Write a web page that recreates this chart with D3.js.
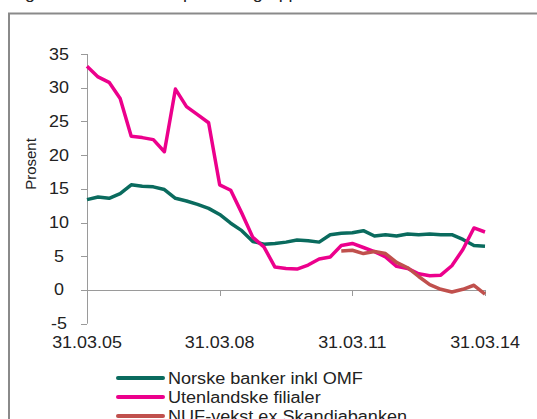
<!DOCTYPE html>
<html>
<head>
<meta charset="utf-8">
<script src="https://cdn.jsdelivr.net/npm/d3@7/dist/d3.min.js"></script>
<style>
  html, body { margin: 0; padding: 0; background: #fff; }
  svg { display: block; }
  text { font-family: "Liberation Sans", Arial, sans-serif; fill: #222; }
</style>
</head>
<body>
<svg id="chart" width="537" height="419"></svg>
<script>
// Quarterly growth, 31.03.05 – 31.03.14 (37 quarters)
const quarters = d3.range(37);
const tickLabels = ["31.03.05", "31.03.08", "31.03.11", "31.03.14"];
const tickQuarters = [0, 12, 24, 36];
const yTicks = [-5, 0, 5, 10, 15, 20, 25, 30, 35];

const norske = [13.4, 13.8, 13.6, 14.3, 15.6, 15.4, 15.3, 14.9, 13.6, 13.2,
                12.7, 12.1, 11.2, 9.9, 8.8, 7.2, 6.8, 6.9, 7.1, 7.4,
                7.3, 7.1, 8.2, 8.4, 8.5, 8.8, 8.0, 8.2, 8.0, 8.3,
                8.2, 8.3, 8.2, 8.2, 7.5, 6.6, 6.5];
const utenlandske = [33.2, 31.6, 30.8, 28.4, 22.8, 22.6, 22.3, 20.5, 29.8, 27.2,
                     26.0, 24.8, 15.6, 14.8, 11.4, 7.8, 6.4, 3.4, 3.2, 3.1,
                     3.7, 4.6, 4.9, 6.6, 6.9, 6.3, 5.7, 4.9, 3.5, 3.2,
                     2.4, 2.1, 2.2, 3.6, 6.0, 9.2, 8.6];
// NUF series starts in the 24th quarter
const nuf = [null, null, null, null, null, null, null, null, null, null,
             null, null, null, null, null, null, null, null, null, null,
             null, null, null, 5.8, 5.9, 5.4, 5.7, 5.4, 4.1, 3.3,
             2.0, 0.8, 0.1, -0.3, 0.1, 0.7, -0.6];

const seriesNames = ["Norske banker inkl OMF", "Utenlandske filialer", "NUF-vekst ex Skandiabanken"];
const seriesColors = ["#0a6b5e", "#ec008c", "#c0504d"];

const svg = d3.select("#chart");
const x = d3.scaleLinear().domain([0, 36]).range([87, 485]);
const y = d3.scaleLinear().domain([-5, 35]).range([323.7, 54]);
const sx = 1.12; // slightly wide lettering

// Title line (sits above the frame, only its descenders reach the page)
svg.append("text")
  .attr("transform", `translate(10,-1.5) scale(${sx},1)`)
  .style("font-size", "16px")
  .text("Figur 1.3 Utlånsvekst per bankgruppe");

// Frame
svg.append("path")
  .attr("d", `M9,430 V13.5 H545`)
  .attr("fill", "none")
  .attr("stroke", "#8a8a8a")
  .attr("stroke-width", 2);

// Y axis
const axisColor = "#9a9a9a";
svg.append("line")
  .attr("x1", x(0) + 0.5).attr("x2", x(0) + 0.5)
  .attr("y1", y(35)).attr("y2", y(-5))
  .attr("stroke", axisColor);
svg.selectAll(".ytick").data(yTicks).join("line")
  .attr("x1", x(0) - 6).attr("x2", x(0))
  .attr("y1", d => Math.round(y(d)) + 0.5).attr("y2", d => Math.round(y(d)) + 0.5)
  .attr("stroke", axisColor);
svg.selectAll(".ylab").data(yTicks).join("text")
  .attr("transform", d => `translate(59,${y(d) + 5.5}) scale(${sx},1)`)
  .attr("text-anchor", "middle")
  .style("font-size", "16px")
  .text(d => d);

// Zero line with ticks every third year
svg.append("line")
  .attr("x1", x(0)).attr("x2", x(36))
  .attr("y1", Math.round(y(0)) + 0.5).attr("y2", Math.round(y(0)) + 0.5)
  .attr("stroke", axisColor);
svg.selectAll(".xtick").data(tickQuarters.slice(1)).join("line")
  .attr("x1", d => Math.round(x(d)) + 0.5).attr("x2", d => Math.round(x(d)) + 0.5)
  .attr("y1", y(0)).attr("y2", y(0) + 6)
  .attr("stroke", axisColor);
svg.selectAll(".xlab").data(tickQuarters).join("text")
  .attr("transform", (d, i) => `translate(${x(d)},348) scale(${sx},1)`)
  .attr("text-anchor", "middle")
  .style("font-size", "16px")
  .text((d, i) => tickLabels[i]);

// Y axis title
svg.append("text")
  .attr("transform", `translate(36,164) rotate(-90)`)
  .attr("text-anchor", "middle")
  .style("font-size", "15px")
  .text("Prosent");

// Lines
const line = d3.line()
  .defined(d => d[1] !== null)
  .x(d => x(d[0]))
  .y(d => y(d[1]));
const allSeries = [norske, utenlandske, nuf];
allSeries.forEach((vals, k) => {
  svg.append("path")
    .datum(quarters.map(q => [q, vals[q]]))
    .attr("d", line)
    .attr("fill", "none")
    .attr("stroke", seriesColors[k])
    .attr("stroke-width", 3.5)
    .attr("stroke-linejoin", "round");
});

// Legend
const legendRows = [378, 397, 416];
seriesNames.forEach((name, k) => {
  svg.append("line")
    .attr("x1", 118).attr("x2", 163)
    .attr("y1", legendRows[k]).attr("y2", legendRows[k])
    .attr("stroke", seriesColors[k])
    .attr("stroke-width", 4)
    .attr("stroke-linecap", "round");
  svg.append("text")
    .attr("transform", `translate(168,${legendRows[k] + 6}) scale(1.13,1)`)
    .style("font-size", "16px")
    .text(name);
});
</script>
</body>
</html>
